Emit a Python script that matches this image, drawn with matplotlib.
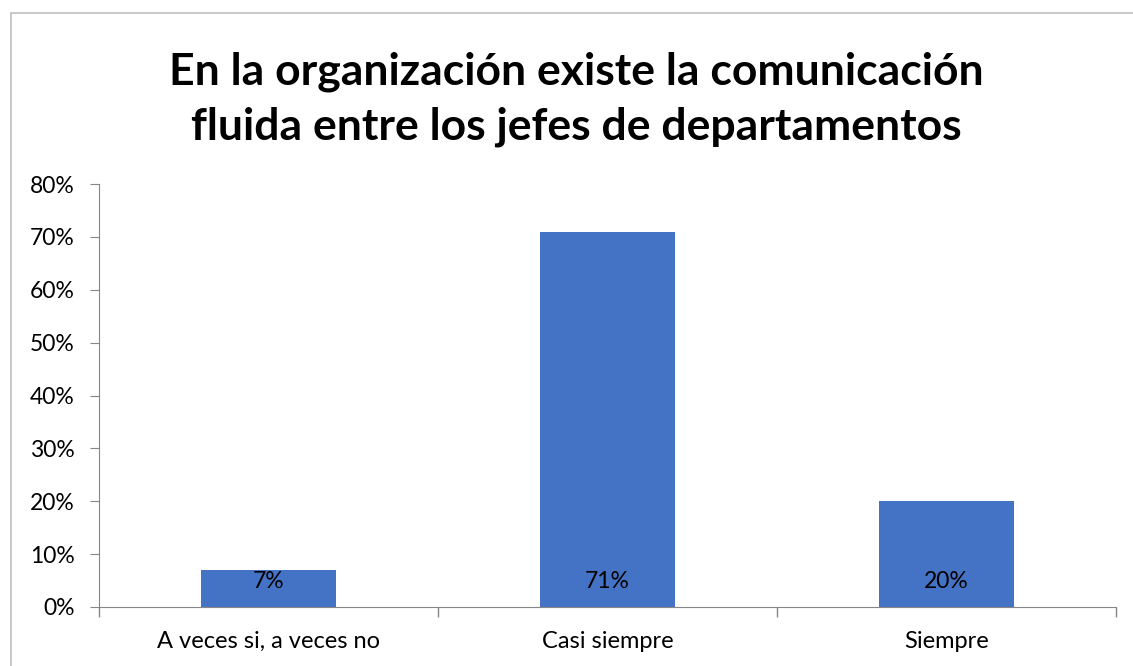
import matplotlib.pyplot as plt
import numpy as np
from matplotlib.patches import Rectangle
from matplotlib.ticker import FixedLocator, PercentFormatter

categories = ["A veces si, a veces no", "Casi siempre", "Siempre"]
values = [7, 71, 20]
yticks = [0, 10, 20, 30, 40, 50, 60, 70, 80]
title = "En la organización existe la comunicación\nfluida entre los jefes de departamentos"

plt.rcParams["font.family"] = ["Lato", "DejaVu Sans"]

fig = plt.figure(figsize=(11.33, 6.66), dpi=100)
ax = fig.add_axes([0.0874, 0.0886, 0.8976, 0.6351])

x = np.arange(len(categories))
bars = ax.bar(x, values, width=0.4, color="#4472C4")
for rect, v in zip(bars, values):
    ax.annotate(f"{v}%", (rect.get_x() + rect.get_width() / 2, 0),
                xytext=(0, 18), textcoords="offset points",
                ha="center", va="center", fontsize=16.5, color="black")

ax.set_xlim(-0.5, len(categories) - 0.5)
ax.set_ylim(0, 80)
ax.set_yticks(yticks)
ax.yaxis.set_major_formatter(PercentFormatter(decimals=0))

# ticks between categories, labels at centres
ax.xaxis.set_major_locator(FixedLocator(np.arange(len(categories) + 1) - 0.5))
ax.xaxis.set_minor_locator(FixedLocator(x))
ax.set_xticklabels([], minor=False)
ax.set_xticklabels(categories, minor=True)
ax.tick_params(axis="x", which="major", length=7, color="#868686", width=1)
ax.tick_params(axis="x", which="minor", length=0, labelsize=17, pad=17)
ax.tick_params(axis="y", length=6.5, color="#868686", labelsize=16.5, pad=11)

for side in ["top", "right"]:
    ax.spines[side].set_visible(False)
for side in ["left", "bottom"]:
    ax.spines[side].set_color("#868686")

fig.text(0.509, 0.851, title, ha="center", va="center", fontsize=32,
         fontweight="bold", linespacing=1.45)

fig.patches.append(Rectangle((11 / 1133, -0.1), 1.2, 1 - 13 / 666 + 0.1,
                             transform=fig.transFigure, fill=False,
                             edgecolor="#BFBFBF", linewidth=1.2))

fig.savefig("out.png", dpi=100)
